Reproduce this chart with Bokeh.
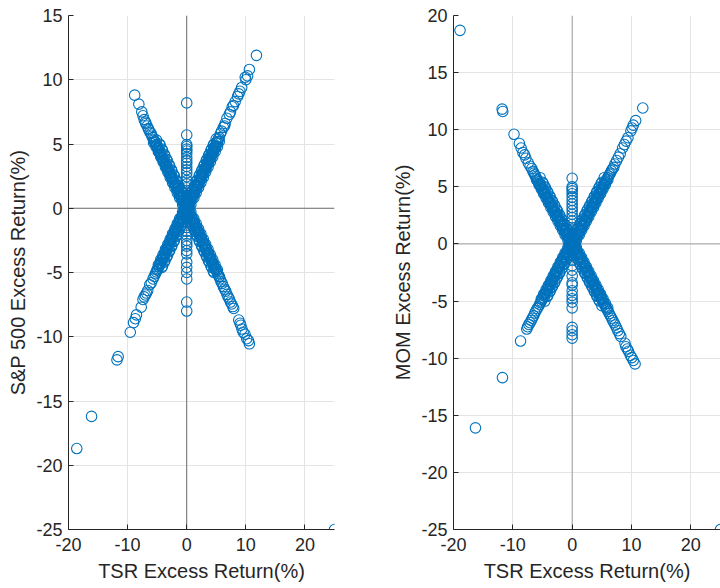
from bokeh.plotting import figure
from bokeh.models import Span, FixedTicker, ColumnDataSource, PrintfTickFormatter
from bokeh.layouts import row
from bokeh.embed import file_html
from bokeh.resources import INLINE

# ---------------- data ----------------
x_ticks = [-20, -10, 0, 10, 20]
sp_y_ticks = [-25, -20, -15, -10, -5, 0, 5, 10, 15]
mom_y_ticks = [-25, -20, -15, -10, -5, 0, 5, 10, 15, 20]

x_label = "TSR Excess Return(%)"
sp_label = "S&P 500 Excess Return(%)"
mom_label = "MOM Excess Return(%)"

# left panel: (TSR, S&P 500)
sp_upper_right = [(11.8, 11.9), (10.6, 10.8), (10.3, 10.3), (10.0, 10.0), (9.9, 10.2), (9.3, 9.4), (9.0, 9.1),
                  (8.8, 8.9), (8.6, 8.7), (8.2, 8.3), (7.9, 8.0), (7.7, 7.9), (7.4, 7.5), (7.2, 7.3), (6.8, 7.0),
                  (6.5, 6.6), (6.4, 6.4), (6.2, 6.3), (5.9, 6.0), (5.7, 5.8), (5.5, 5.5), (5.36, 5.4), (5.22, 5.1),
                  (5.15, 5.2), (5.01, 5.05), (4.92, 4.85), (4.8, 4.82), (4.71, 4.65), (4.58, 4.6), (4.49, 4.45),
                  (4.37, 4.4), (4.3, 4.25), (4.18, 4.15), (4.05, 4.1), (3.97, 3.92), (3.88, 3.85), (3.74, 3.78),
                  (3.66, 3.6), (3.55, 3.58), (3.41, 3.45), (3.33, 3.28), (3.2, 3.22), (3.12, 3.05), (3.01, 3.03),
                  (2.9, 2.88), (2.81, 2.85), (2.7, 2.66), (2.62, 2.65), (2.5, 2.52), (2.43, 2.38), (2.31, 2.35),
                  (2.2, 2.17), (2.14, 2.18), (2.02, 2.0), (1.93, 1.96), (1.81, 1.78), (1.72, 1.75), (1.6, 1.62),
                  (1.52, 1.48), (1.43, 1.46), (1.3, 1.28), (1.22, 1.25), (1.1, 1.08), (1.03, 1.06), (0.92, 0.9),
                  (0.81, 0.83), (0.72, 0.7), (0.6, 0.62), (0.53, 0.5), (0.41, 0.44), (0.32, 0.3), (0.21, 0.23),
                  (0.12, 0.1), (0.05, 0.08),
                  (0.7, 0.3), (0.2, 0.6), (1.2, 0.8), (0.6, 1.0), (1.6, 1.2), (1.0, 1.4), (2.0, 1.6), (1.4, 1.8),
                  (2.4, 2.0), (1.8, 2.2), (2.8, 2.4), (2.2, 2.6), (3.2, 2.8), (2.6, 3.0), (3.6, 3.2), (3.0, 3.4),
                  (4.0, 3.6), (3.4, 3.8), (4.4, 4.0), (3.8, 4.2), (4.8, 4.4), (4.2, 4.6), (5.2, 4.8), (4.6, 5.0),
                  (5.5, 5.2), (5.0, 5.4)]
sp_upper_right_dense = [(0.5, 0.3), (0.1, 0.5), (0.9, 0.7), (0.5, 0.9), (1.3, 1.1), (0.9, 1.3), (1.7, 1.5),
                        (1.3, 1.7), (2.1, 1.9), (1.7, 2.1), (2.5, 2.3), (2.1, 2.5), (2.9, 2.7), (2.5, 2.9),
                        (3.3, 3.1), (2.9, 3.3), (3.7, 3.5), (3.3, 3.7), (4.1, 3.9), (3.7, 4.1), (4.5, 4.3),
                        (4.1, 4.5), (4.9, 4.7), (4.5, 4.9)]
sp_upper_left = [(-8.8, 8.8), (-8.1, 8.1), (-7.6, 7.5), (-7.4, 7.2), (-7.2, 6.9), (-7.0, 6.7), (-6.9, 6.6),
                 (-6.7, 6.4), (-6.5, 6.2), (-6.4, 6.1), (-6.2, 5.9), (-6.0, 5.8), (-5.9, 5.6), (-5.7, 5.5),
                 (-5.6, 5.3), (-5.45, 5.2), (-5.3, 5.15), (-5.2, 4.95), (-5.05, 4.9), (-4.95, 4.7), (-4.8, 4.65),
                 (-4.7, 4.45), (-4.55, 4.4), (-4.45, 4.2), (-4.3, 4.15), (-4.2, 3.95), (-4.05, 3.9), (-3.95, 3.72),
                 (-3.8, 3.65), (-3.7, 3.5), (-3.55, 3.42), (-3.45, 3.25), (-3.3, 3.18), (-3.2, 3.0), (-3.05, 2.95),
                 (-2.95, 2.78), (-2.8, 2.7), (-2.7, 2.52), (-2.55, 2.46), (-2.45, 2.3), (-2.3, 2.22), (-2.2, 2.05),
                 (-2.05, 1.98), (-1.95, 1.82), (-1.8, 1.74), (-1.7, 1.58), (-1.55, 1.5), (-1.45, 1.34), (-1.3, 1.27),
                 (-1.2, 1.1), (-1.05, 1.03), (-0.95, 0.86), (-0.8, 0.8), (-0.7, 0.62), (-0.55, 0.55), (-0.45, 0.38),
                 (-0.3, 0.32), (-0.2, 0.15), (-0.08, 0.1),
                 (-0.7, 0.3), (-0.2, 0.6), (-1.2, 0.8), (-0.6, 1.0), (-1.6, 1.2), (-1.0, 1.4), (-2.0, 1.6),
                 (-1.4, 1.8), (-2.4, 2.0), (-1.8, 2.2), (-2.8, 2.4), (-2.2, 2.6), (-3.2, 2.8), (-2.6, 3.0),
                 (-3.6, 3.2), (-3.0, 3.4), (-4.0, 3.6), (-3.4, 3.8), (-4.4, 4.0), (-3.8, 4.2), (-4.8, 4.4),
                 (-4.2, 4.6), (-5.2, 4.8), (-4.6, 5.0), (-5.6, 5.1), (-5.1, 5.3)]
sp_upper_left_dense = [(-0.5, 0.3), (-0.1, 0.5), (-0.9, 0.7), (-0.5, 0.9), (-1.3, 1.1), (-0.9, 1.3), (-1.7, 1.5),
                       (-1.3, 1.7), (-2.1, 1.9), (-1.7, 2.1), (-2.5, 2.3), (-2.1, 2.5), (-2.9, 2.7), (-2.5, 2.9),
                       (-3.3, 3.1), (-2.9, 3.3), (-3.7, 3.5), (-3.3, 3.7), (-4.1, 3.9), (-3.7, 4.1), (-4.5, 4.3),
                       (-4.1, 4.5), (-4.9, 4.7), (-4.5, 4.9)]
sp_lower_left = [(-18.6, -18.7), (-16.1, -16.2), (-11.8, -11.8), (-11.6, -11.55), (-9.55, -9.65), (-9.0, -8.9),
                 (-8.7, -8.6), (-8.5, -8.3), (-7.7, -7.7), (-7.4, -7.1), (-7.2, -6.9), (-7.0, -6.75), (-6.8, -6.6),
                 (-6.6, -6.4), (-6.25, -5.95), (-6.0, -5.8), (-5.7, -5.5), (-5.5, -5.3), (-5.3, -5.1), (-5.15, -4.95),
                 (-5.0, -4.8), (-4.88, -4.7), (-4.75, -4.55), (-4.6, -4.45), (-4.5, -4.3), (-4.35, -4.2),
                 (-4.25, -4.05), (-4.1, -3.95), (-4.0, -3.8), (-3.85, -3.7), (-3.75, -3.55), (-3.6, -3.45),
                 (-3.5, -3.3), (-3.35, -3.2), (-3.25, -3.05), (-3.1, -2.95), (-3.0, -2.8), (-2.85, -2.7),
                 (-2.75, -2.55), (-2.6, -2.45), (-2.5, -2.3), (-2.35, -2.2), (-2.25, -2.05), (-2.1, -1.95),
                 (-2.0, -1.8), (-1.85, -1.7), (-1.75, -1.55), (-1.6, -1.45), (-1.5, -1.3), (-1.35, -1.2),
                 (-1.25, -1.05), (-1.1, -0.95), (-1.0, -0.8), (-0.85, -0.7), (-0.75, -0.55), (-0.6, -0.45),
                 (-0.5, -0.3), (-0.35, -0.22), (-0.22, -0.1), (-0.1, -0.05),
                 (-0.7, -0.3), (-0.2, -0.6), (-1.2, -0.8), (-0.6, -1.0), (-1.6, -1.2), (-1.0, -1.4), (-2.0, -1.6),
                 (-1.4, -1.8), (-2.4, -2.0), (-1.8, -2.2), (-2.8, -2.4), (-2.2, -2.6), (-3.2, -2.8), (-2.6, -3.0),
                 (-3.6, -3.2), (-3.0, -3.4), (-4.0, -3.6), (-3.4, -3.8), (-4.4, -4.0), (-3.8, -4.2), (-4.8, -4.4),
                 (-4.2, -4.6), (-5.0, -4.8)]
sp_lower_left_dense = [(-0.5, -0.3), (-0.1, -0.5), (-0.9, -0.7), (-0.5, -0.9), (-1.3, -1.1), (-0.9, -1.3),
                       (-1.7, -1.5), (-1.3, -1.7), (-2.1, -1.9), (-1.7, -2.1), (-2.5, -2.3), (-2.1, -2.5),
                       (-2.9, -2.7), (-2.5, -2.9), (-3.3, -3.1), (-2.9, -3.3), (-3.7, -3.5), (-3.3, -3.7),
                       (-4.1, -3.9), (-3.7, -4.1), (-4.5, -4.3), (-4.1, -4.5)]
sp_lower_right = [(25.0, -25.0), (10.6, -10.55), (10.45, -10.3), (10.15, -10.15), (9.85, -9.8), (9.55, -9.65),
                  (9.35, -9.4), (9.15, -9.1), (9.0, -8.95), (8.8, -8.7), (7.95, -7.8), (7.8, -7.65), (7.6, -7.45),
                  (7.4, -7.3), (7.2, -7.05), (7.0, -6.9), (6.8, -6.7), (6.6, -6.45), (6.4, -6.3), (6.2, -6.1),
                  (6.0, -5.85), (5.8, -5.7), (5.65, -5.5), (5.5, -5.35), (5.35, -5.2), (5.2, -5.05), (5.05, -4.9),
                  (4.9, -4.75), (4.75, -4.6), (4.6, -4.5), (4.45, -4.35), (4.3, -4.2), (4.15, -4.05), (4.0, -3.9),
                  (3.85, -3.75), (3.7, -3.6), (3.55, -3.45), (3.4, -3.3), (3.25, -3.15), (3.1, -3.0), (2.95, -2.85),
                  (2.8, -2.7), (2.65, -2.55), (2.5, -2.4), (2.35, -2.25), (2.2, -2.1), (2.05, -1.95), (1.9, -1.8),
                  (1.75, -1.65), (1.6, -1.5), (1.45, -1.35), (1.3, -1.2), (1.15, -1.05), (1.0, -0.9), (0.85, -0.75),
                  (0.7, -0.6), (0.55, -0.45), (0.4, -0.3), (0.25, -0.15), (0.1, -0.05),
                  (0.7, -0.3), (0.2, -0.6), (1.2, -0.8), (0.6, -1.0), (1.6, -1.2), (1.0, -1.4), (2.0, -1.6),
                  (1.4, -1.8), (2.4, -2.0), (1.8, -2.2), (2.8, -2.4), (2.2, -2.6), (3.2, -2.8), (2.6, -3.0),
                  (3.6, -3.2), (3.0, -3.4), (4.0, -3.6), (3.4, -3.8), (4.4, -4.0), (3.8, -4.2), (4.8, -4.4),
                  (4.2, -4.6), (5.2, -4.8), (4.6, -5.0), (5.5, -5.3)]
sp_lower_right_dense = [(0.5, -0.3), (0.1, -0.5), (0.9, -0.7), (0.5, -0.9), (1.3, -1.1), (0.9, -1.3), (1.7, -1.5),
                        (1.3, -1.7), (2.1, -1.9), (1.7, -2.1), (2.5, -2.3), (2.1, -2.5), (2.9, -2.7), (2.5, -2.9),
                        (3.3, -3.1), (2.9, -3.3), (3.7, -3.5), (3.3, -3.7), (4.1, -3.9), (3.7, -4.1), (4.5, -4.3),
                        (4.1, -4.5), (4.9, -4.7), (4.5, -4.9)]
sp_flat_tsr = [8.2, 5.7, 4.95, 4.8, 4.6, 4.45, 4.25, 3.95, 3.7, 3.5, 3.25, 3.0, 2.75, 2.45, 2.15, 1.9, 1.6, 1.25,
               0.85, 0.45, 0.1, -0.3, -0.7, -1.1, -1.5, -1.8, -2.1, -2.5, -2.75, -2.95, -3.3, -3.55, -4.2, -4.6,
               -5.0, -5.5, -7.3, -8.0]

# right panel: (TSR, MOM)
mom_upper_left = [(-18.9, 18.7), (-11.8, 11.8), (-11.7, 11.6), (-9.8, 9.6), (-8.9, 8.8), (-8.6, 8.4), (-8.3, 8.0),
                  (-8.0, 7.8), (-7.8, 7.5), (-7.4, 7.1), (-7.1, 6.8), (-6.8, 6.6), (-6.6, 6.35), (-6.45, 6.2),
                  (-6.3, 6.05), (-6.15, 5.9), (-6.0, 5.75), (-5.85, 5.6), (-5.7, 5.45), (-5.55, 5.3), (-5.4, 5.2),
                  (-5.25, 5.05), (-5.1, 4.9), (-4.95, 4.75), (-4.8, 4.6), (-4.65, 4.45), (-4.5, 4.35), (-4.35, 4.2),
                  (-4.2, 4.05), (-4.05, 3.9), (-3.9, 3.75), (-3.75, 3.6), (-3.6, 3.5), (-3.45, 3.35), (-3.3, 3.2),
                  (-3.15, 3.05), (-3.0, 2.9), (-2.85, 2.75), (-2.7, 2.6), (-2.55, 2.5), (-2.4, 2.3), (-2.25, 2.2),
                  (-2.1, 2.0), (-1.95, 1.9), (-1.8, 1.7), (-1.65, 1.6), (-1.5, 1.4), (-1.35, 1.3), (-1.2, 1.1),
                  (-1.05, 1.0), (-0.9, 0.8), (-0.75, 0.7), (-0.6, 0.5), (-0.45, 0.4), (-0.3, 0.2), (-0.15, 0.1),
                  (-0.7, 0.3), (-0.2, 0.6), (-1.2, 0.8), (-0.6, 1.0), (-1.6, 1.2), (-1.0, 1.4), (-2.0, 1.6),
                  (-1.4, 1.8), (-2.4, 2.0), (-1.8, 2.2), (-2.8, 2.4), (-2.2, 2.6), (-3.2, 2.8), (-2.6, 3.0),
                  (-3.6, 3.2), (-3.0, 3.4), (-4.0, 3.6), (-3.4, 3.8), (-4.4, 4.0), (-3.8, 4.2), (-4.8, 4.4),
                  (-4.2, 4.6), (-5.2, 4.8), (-4.6, 5.0), (-5.6, 5.2), (-5.0, 5.4), (-6.0, 5.6), (-5.4, 5.8)]
mom_upper_left_dense = [(-0.5, 0.3), (-0.1, 0.5), (-0.9, 0.7), (-0.5, 0.9), (-1.3, 1.1), (-0.9, 1.3), (-1.7, 1.5),
                        (-1.3, 1.7), (-2.1, 1.9), (-1.7, 2.1), (-2.5, 2.3), (-2.1, 2.5), (-2.9, 2.7), (-2.5, 2.9),
                        (-3.3, 3.1), (-2.9, 3.3), (-3.7, 3.5), (-3.3, 3.7), (-4.1, 3.9), (-3.7, 4.1), (-4.5, 4.3),
                        (-4.1, 4.5), (-4.9, 4.7), (-4.5, 4.9), (-5.3, 5.1), (-4.9, 5.3)]
mom_upper_right = [(11.9, 11.9), (10.7, 10.8), (10.3, 10.4), (10.1, 10.15), (9.9, 9.9), (9.4, 9.3), (9.1, 9.0),
                   (8.8, 8.7), (8.5, 8.4), (8.1, 7.9), (7.8, 7.6), (7.5, 7.3), (7.2, 7.0), (7.0, 6.7), (6.8, 6.55),
                   (6.6, 6.4), (6.45, 6.2), (6.3, 6.1), (6.15, 5.95), (6.0, 5.8), (5.85, 5.65), (5.7, 5.5),
                   (5.55, 5.4), (5.4, 5.25), (5.25, 5.1), (5.1, 4.95), (4.95, 4.8), (4.8, 4.65), (4.65, 4.5),
                   (4.5, 4.4), (4.35, 4.2), (4.2, 4.1), (4.05, 3.9), (3.9, 3.8), (3.75, 3.6), (3.6, 3.5), (3.45, 3.3),
                   (3.3, 3.2), (3.15, 3.0), (3.0, 2.9), (2.85, 2.7), (2.7, 2.6), (2.55, 2.4), (2.4, 2.3), (2.25, 2.1),
                   (2.1, 2.0), (1.95, 1.8), (1.8, 1.7), (1.65, 1.5), (1.5, 1.4), (1.35, 1.2), (1.2, 1.1), (1.05, 0.9),
                   (0.9, 0.8), (0.75, 0.6), (0.6, 0.5), (0.45, 0.3), (0.3, 0.2), (0.15, 0.1),
                   (0.7, 0.3), (0.2, 0.6), (1.2, 0.8), (0.6, 1.0), (1.6, 1.2), (1.0, 1.4), (2.0, 1.6), (1.4, 1.8),
                   (2.4, 2.0), (1.8, 2.2), (2.8, 2.4), (2.2, 2.6), (3.2, 2.8), (2.6, 3.0), (3.6, 3.2), (3.0, 3.4),
                   (4.0, 3.6), (3.4, 3.8), (4.4, 4.0), (3.8, 4.2), (4.8, 4.4), (4.2, 4.6), (5.2, 4.8), (4.6, 5.0),
                   (5.6, 5.2), (5.0, 5.4), (6.0, 5.6), (5.4, 5.8)]
mom_upper_right_dense = [(0.5, 0.3), (0.1, 0.5), (0.9, 0.7), (0.5, 0.9), (1.3, 1.1), (0.9, 1.3), (1.7, 1.5),
                         (1.3, 1.7), (2.1, 1.9), (1.7, 2.1), (2.5, 2.3), (2.1, 2.5), (2.9, 2.7), (2.5, 2.9),
                         (3.3, 3.1), (2.9, 3.3), (3.7, 3.5), (3.3, 3.7), (4.1, 3.9), (3.7, 4.1), (4.5, 4.3),
                         (4.1, 4.5), (4.9, 4.7), (4.5, 4.9), (5.3, 5.1), (4.9, 5.3)]
mom_lower_left = [(-16.3, -16.1), (-11.75, -11.7), (-8.7, -8.5), (-7.65, -7.45), (-7.5, -7.25), (-7.3, -7.05),
                  (-7.1, -6.9), (-6.9, -6.7), (-6.7, -6.5), (-6.5, -6.3), (-6.3, -6.05), (-6.1, -5.85),
                  (-5.9, -5.65), (-5.7, -5.5), (-5.5, -5.3), (-5.35, -5.15), (-5.2, -5.0), (-5.05, -4.85),
                  (-4.9, -4.7), (-4.75, -4.55), (-4.6, -4.4), (-4.45, -4.25), (-4.3, -4.1), (-4.15, -3.95),
                  (-4.0, -3.8), (-3.85, -3.65), (-3.7, -3.5), (-3.55, -3.35), (-3.4, -3.2), (-3.25, -3.05),
                  (-3.1, -2.9), (-2.95, -2.75), (-2.8, -2.6), (-2.65, -2.45), (-2.5, -2.3), (-2.35, -2.15),
                  (-2.2, -2.0), (-2.05, -1.85), (-1.9, -1.7), (-1.75, -1.55), (-1.6, -1.4), (-1.45, -1.25),
                  (-1.3, -1.1), (-1.15, -0.95), (-1.0, -0.8), (-0.85, -0.65), (-0.7, -0.5), (-0.55, -0.35),
                  (-0.4, -0.25), (-0.25, -0.1), (-0.1, -0.05),
                  (-0.7, -0.3), (-0.2, -0.6), (-1.2, -0.8), (-0.6, -1.0), (-1.6, -1.2), (-1.0, -1.4), (-2.0, -1.6),
                  (-1.4, -1.8), (-2.4, -2.0), (-1.8, -2.2), (-2.8, -2.4), (-2.2, -2.6), (-3.2, -2.8), (-2.6, -3.0),
                  (-3.6, -3.2), (-3.0, -3.4), (-4.0, -3.6), (-3.4, -3.8), (-4.4, -4.0), (-3.8, -4.2), (-4.8, -4.4),
                  (-4.2, -4.6), (-5.2, -4.8), (-4.6, -5.0)]
mom_lower_left_dense = [(-0.5, -0.3), (-0.1, -0.5), (-0.9, -0.7), (-0.5, -0.9), (-1.3, -1.1), (-0.9, -1.3),
                        (-1.7, -1.5), (-1.3, -1.7), (-2.1, -1.9), (-1.7, -2.1), (-2.5, -2.3), (-2.1, -2.5),
                        (-2.9, -2.7), (-2.5, -2.9), (-3.3, -3.1), (-2.9, -3.3), (-3.7, -3.5), (-3.3, -3.7),
                        (-4.1, -3.9), (-3.7, -4.1), (-4.5, -4.3), (-4.1, -4.5)]
mom_lower_right = [(25.0, -25.0), (10.6, -10.5), (10.3, -10.2), (10.05, -9.95), (9.8, -9.75), (9.5, -9.4),
                   (9.3, -9.2), (9.05, -9.0), (8.9, -8.7), (8.2, -8.1), (7.95, -7.85), (7.7, -7.6), (7.5, -7.35),
                   (7.25, -7.1), (7.05, -6.9), (6.85, -6.7), (6.65, -6.5), (6.45, -6.3), (6.25, -6.1), (6.05, -5.9),
                   (5.9, -5.75), (5.75, -5.6), (5.6, -5.45), (5.45, -5.3), (5.3, -5.15), (5.15, -5.0), (5.0, -4.85),
                   (4.85, -4.7), (4.7, -4.55), (4.55, -4.4), (4.4, -4.25), (4.25, -4.1), (4.1, -3.95), (3.95, -3.8),
                   (3.8, -3.65), (3.65, -3.5), (3.5, -3.35), (3.35, -3.2), (3.2, -3.05), (3.05, -2.9), (2.9, -2.75),
                   (2.75, -2.6), (2.6, -2.45), (2.45, -2.3), (2.3, -2.15), (2.15, -2.0), (2.0, -1.85), (1.85, -1.7),
                   (1.7, -1.55), (1.55, -1.4), (1.4, -1.25), (1.25, -1.1), (1.1, -0.95), (0.95, -0.8), (0.8, -0.65),
                   (0.65, -0.5), (0.5, -0.35), (0.35, -0.2), (0.2, -0.1), (0.08, -0.03),
                   (0.7, -0.3), (0.2, -0.6), (1.2, -0.8), (0.6, -1.0), (1.6, -1.2), (1.0, -1.4), (2.0, -1.6),
                   (1.4, -1.8), (2.4, -2.0), (1.8, -2.2), (2.8, -2.4), (2.2, -2.6), (3.2, -2.8), (2.6, -3.0),
                   (3.6, -3.2), (3.0, -3.4), (4.0, -3.6), (3.4, -3.8), (4.4, -4.0), (3.8, -4.2), (4.8, -4.4),
                   (4.2, -4.6), (5.2, -4.8), (4.6, -5.0), (5.6, -5.2), (5.0, -5.4), (6.0, -5.6)]
mom_lower_right_dense = [(0.5, -0.3), (0.1, -0.5), (0.9, -0.7), (0.5, -0.9), (1.3, -1.1), (0.9, -1.3),
                         (1.7, -1.5), (1.3, -1.7), (2.1, -1.9), (1.7, -2.1), (2.5, -2.3), (2.1, -2.5),
                         (2.9, -2.7), (2.5, -2.9), (3.3, -3.1), (2.9, -3.3), (3.7, -3.5), (3.3, -3.7),
                         (4.1, -3.9), (3.7, -4.1), (4.5, -4.3), (4.1, -4.5), (4.9, -4.7), (4.5, -4.9)]
mom_flat_tsr = [5.75, 5.0, 4.85, 4.65, 4.4, 4.1, 3.8, 3.5, 3.2, 2.9, 2.6, 2.3, 2.0, 1.7, 1.3, 0.9, 0.5, 0.1,
                -0.4, -0.9, -1.4, -1.9, -2.3, -2.8, -3.4, -3.6, -4.1, -4.5, -4.8, -5.1, -5.6, -7.3, -7.6, -7.95,
                -8.25]

# ---------------- styling ----------------
BLUE = "#0072BD"
TXT = "#262626"
FONT = "Liberation Sans"


def panel(ylabel, y_rng, y_ticks, arms, flat, zero_color, border_left, border_right, fw):
    p = figure(frame_width=fw, frame_height=514, x_range=(-20, 25), y_range=y_rng,
               output_backend="svg", toolbar_location=None,
               min_border_left=border_left, min_border_right=border_right,
               min_border_top=15, min_border_bottom=59,
               background_fill_color="white", border_fill_color="white",
               outline_line_color=None)
    p.xaxis.ticker = FixedTicker(ticks=x_ticks)
    p.yaxis.ticker = FixedTicker(ticks=y_ticks)
    p.xaxis.formatter = PrintfTickFormatter(format="%d")
    p.yaxis.formatter = PrintfTickFormatter(format="%d")
    p.xaxis.axis_label = x_label
    p.yaxis.axis_label = ylabel
    for ax in p.xaxis + p.yaxis:
        ax.major_tick_in = 5
        ax.major_tick_out = 0
        ax.minor_tick_in = 0
        ax.minor_tick_out = 0
        ax.axis_line_color = TXT
        ax.axis_line_width = 1
        ax.major_tick_line_color = TXT
        ax.major_label_text_font = FONT
        ax.major_label_text_font_size = "18px"
        ax.major_label_text_color = TXT
        ax.axis_label_text_font = FONT
        ax.axis_label_text_font_size = "20px"
        ax.axis_label_text_font_style = "normal"
        ax.axis_label_text_color = TXT
    p.yaxis.major_label_standoff = 6
    p.yaxis.axis_label_standoff = 4
    p.xaxis.major_label_standoff = 8
    p.xaxis.axis_label_standoff = 6
    p.grid.grid_line_color = "#e4e4e4"
    p.grid.grid_line_width = 1

    p.add_layout(Span(location=0, dimension="height", line_color=zero_color, line_width=1, level="underlay"))
    p.add_layout(Span(location=0, dimension="width", line_color=zero_color, line_width=1, level="underlay"))

    xs, ys = [], []
    for arm in arms:
        for a, b in arm:
            xs.append(a)
            ys.append(b)
    for v in flat:
        xs.append(0.0)
        ys.append(v)
    src = ColumnDataSource(data=dict(x=xs, y=ys))
    p.scatter("x", "y", source=src, marker="circle", size=10.5,
              fill_color=None, line_color=BLUE, line_width=1.1)
    return p


p1 = panel(sp_label, (-25, 15), sp_y_ticks,
           [sp_upper_right, sp_upper_right_dense, sp_upper_left, sp_upper_left_dense,
            sp_lower_left, sp_lower_left_dense, sp_lower_right, sp_lower_right_dense], sp_flat_tsr,
           "#6e6e6e", 68, 26, 266)
p2 = panel(mom_label, (-25, 20), mom_y_ticks,
           [mom_upper_right, mom_upper_right_dense, mom_upper_left, mom_upper_left_dense,
            mom_lower_left, mom_lower_left_dense, mom_lower_right, mom_lower_right_dense], mom_flat_tsr,
           "#a0a0a0", 93, 0, 267)

layout = row(p1, p2)
open("out.html", "w").write(file_html(layout, INLINE))
